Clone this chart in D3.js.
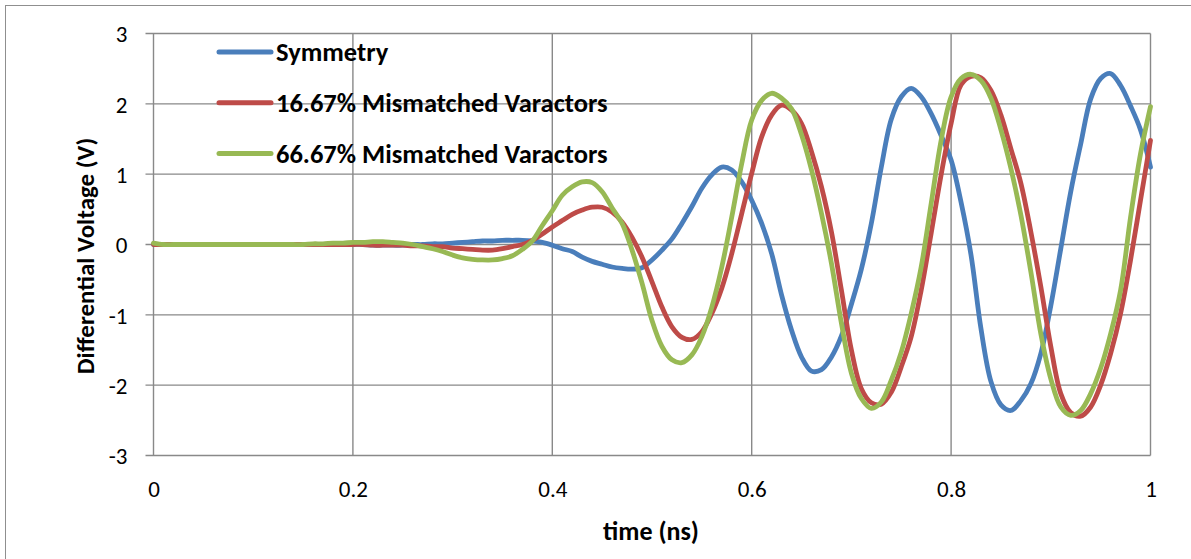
<!DOCTYPE html>
<html>
<head>
<meta charset="utf-8">
<script src="https://cdn.jsdelivr.net/npm/d3@7"></script>
<style>
  html, body { margin: 0; padding: 0; background: #fff; }
  svg { display: block; }
  text { font-family: Carlito, Calibri, Lato, "Noto Sans", sans-serif; fill: #000; }
</style>
</head>
<body>
<svg id="chart" width="1191" height="559"></svg>
<script>
// Differential output voltage of the oscillator during start-up (0 – 1 ns)
const timeNs = d3.range(0, 101).map(i => i / 100);

const seriesNames = ["Symmetry", "16.67% Mismatched Varactors", "66.67% Mismatched Varactors"];
const seriesColors = ["#4A7EBB", "#BE4B48", "#98B954"];

const symmetry = [
  0, 0, 0, 0, 0, 0, 0, 0, 0, 0,
  0, 0, 0, 0, 0, 0, 0, 0, 0, 0,
  0, 0, -0.01, -0.01, -0.01, -0.01, 0, 0, 0.01, 0.01,
  0.02, 0.03, 0.04, 0.05, 0.05, 0.06, 0.06, 0.06, 0.05, 0.03,
  -0.01, -0.06, -0.10, -0.18, -0.24, -0.28, -0.32, -0.34, -0.35, -0.33,
  -0.22, -0.08, 0.08, 0.30, 0.54, 0.80, 0.99, 1.10, 1.06, 0.89,
  0.63, 0.30, -0.13, -0.72, -1.22, -1.60, -1.80, -1.78, -1.60, -1.30,
  -0.85, -0.35, 0.30, 1.10, 1.78, 2.10, 2.22, 2.10, 1.86, 1.55,
  1.20, 0.60, -0.15, -1.20, -1.95, -2.28, -2.36, -2.22, -1.98, -1.55,
  -0.87, -0.06, 0.75, 1.43, 2.07, 2.36, 2.43, 2.26, 1.97, 1.63,
  1.10
];

const mismatch1667 = [
  0, 0, 0, 0, 0, 0, 0, 0, 0, 0,
  0, 0, 0, 0, 0, 0, 0, 0, 0, 0,
  0, 0, -0.01, -0.01, -0.01, -0.01, -0.02, -0.02, -0.03, -0.03,
  -0.05, -0.06, -0.07, -0.08, -0.08, -0.06, -0.03, 0.00, 0.06, 0.15,
  0.25, 0.34, 0.43, 0.49, 0.53, 0.53, 0.46, 0.32, 0.10, -0.18,
  -0.53, -0.89, -1.17, -1.32, -1.35, -1.24, -0.98, -0.62, -0.13, 0.44,
  1.01, 1.53, 1.84, 1.98, 1.91, 1.72, 1.32, 0.82, 0.18, -0.65,
  -1.50, -2.05, -2.25, -2.27, -2.10, -1.74, -1.31, -0.65, 0.16, 0.99,
  1.72, 2.27, 2.39, 2.37, 2.19, 1.84, 1.36, 0.87, 0.18, -0.60,
  -1.45, -2.12, -2.39, -2.44, -2.31, -2.00, -1.55, -0.98, -0.22, 0.63,
  1.48
];

const mismatch6667 = [
  0.02, 0, 0, 0, 0, 0, 0, 0, 0, 0,
  0, 0, 0, 0, 0, 0, 0.01, 0.01, 0.02, 0.02,
  0.03, 0.03, 0.04, 0.04, 0.03, 0.02, 0.00, -0.03, -0.06, -0.10,
  -0.15, -0.19, -0.21, -0.22, -0.22, -0.20, -0.16, -0.07, 0.05, 0.27,
  0.48, 0.70, 0.82, 0.89, 0.88, 0.75, 0.52, 0.30, -0.08, -0.55,
  -1.08, -1.45, -1.64, -1.68, -1.57, -1.31, -0.89, -0.32, 0.39, 1.15,
  1.77, 2.05, 2.15, 2.08, 1.93, 1.56, 1.06, 0.44, -0.27, -1.12,
  -1.83, -2.19, -2.33, -2.24, -1.93, -1.53, -0.98, -0.32, 0.58, 1.48,
  2.10, 2.36, 2.42, 2.33, 2.08, 1.63, 1.08, 0.42, -0.39, -1.27,
  -1.91, -2.31, -2.43, -2.36, -2.12, -1.76, -1.27, -0.65, 0.39, 1.29,
  1.96
];

const xTicks = [0, 0.2, 0.4, 0.6, 0.8, 1];
const yTicks = [-3, -2, -1, 0, 1, 2, 3];

const svg = d3.select("#chart");
const W = 1191, H = 559;
const margin = { left: 153.5, right: W - 1150.5, top: 33.5, bottom: H - 455.5 };
const gridColor = "#898989";
const fontStack = "Carlito, Calibri, Lato, sans-serif";

// outer chart frame
svg.append("rect")
  .attr("x", 5.5).attr("y", 5.5)
  .attr("width", W + 10).attr("height", H + 10)
  .attr("fill", "#fff").attr("stroke", "#8f8f8f").attr("stroke-width", 1);

const x = d3.scaleLinear().domain([0, 1]).range([margin.left, W - margin.right]);
const y = d3.scaleLinear().domain([-3, 3]).range([H - margin.bottom, margin.top]);

// gridlines
const grid = svg.append("g");
grid.selectAll(".hg").data(yTicks).join("line")
  .attr("x1", x(0) - 8).attr("x2", x(1))
  .attr("y1", d => y(d)).attr("y2", d => y(d))
  .attr("stroke", gridColor).attr("stroke-width", 1.4);
grid.selectAll(".vg").data(xTicks).join("line")
  .attr("x1", d => x(d)).attr("x2", d => x(d))
  .attr("y1", y(3)).attr("y2", y(-3))
  .attr("stroke", gridColor).attr("stroke-width", 1.4);

// axis labels
const yAxis = d3.axisLeft(y).tickValues(yTicks).tickSize(0).tickPadding(26)
  .tickFormat(d => d3.format("d")(d).replace("−", "-"));
const gy = svg.append("g").attr("transform", `translate(${x(0)},0)`).call(yAxis);
gy.select(".domain").remove();
gy.selectAll("text").attr("font-size", 23).attr("font-family", fontStack).attr("dy", "0.36em");

const xAxis = d3.axisBottom(x).tickValues(xTicks).tickSize(0).tickPadding(25)
  .tickFormat(d => d3.format("")(d));
const gx = svg.append("g").attr("transform", `translate(0,${y(-3)})`).call(xAxis);
gx.select(".domain").remove();
gx.selectAll("text").attr("font-size", 23).attr("font-family", fontStack);

// series
const line = d3.line()
  .x((d, i) => x(timeNs[i]))
  .y(d => y(d))
  .curve(d3.curveCatmullRom.alpha(0.5));

const allSeries = [symmetry, mismatch1667, mismatch6667];
svg.append("g").selectAll("path").data(allSeries).join("path")
  .attr("d", d => line(d))
  .attr("fill", "none")
  .attr("stroke", (d, i) => seriesColors[i])
  .attr("stroke-width", 4.8)
  .attr("stroke-linejoin", "round")
  .attr("stroke-linecap", "round");

// legend
const legend = svg.append("g");
const legendRows = legend.selectAll("g").data(seriesNames).join("g")
  .attr("transform", (d, i) => `translate(219,${52 + i * 50.7})`);
legendRows.append("line")
  .attr("x1", 0).attr("x2", 52).attr("y1", 0).attr("y2", 0)
  .attr("stroke", (d, i) => seriesColors[i])
  .attr("stroke-width", 5).attr("stroke-linecap", "round");
legendRows.append("text")
  .attr("x", 57).attr("y", 0).attr("dy", "0.35em")
  .attr("font-size", 26.5).attr("font-weight", "bold")
  .text(d => d);

// axis titles
svg.append("text")
  .attr("x", 651).attr("y", 531)
  .attr("text-anchor", "middle").attr("dy", "0.35em")
  .attr("font-size", 26).attr("font-weight", "bold")
  .text("time (ns)");

svg.append("text")
  .attr("transform", "translate(85,256) rotate(-90)")
  .attr("text-anchor", "middle").attr("dy", "0.35em")
  .attr("font-size", 25).attr("font-weight", "bold")
  .text("Differential Voltage (V)");
</script>
</body>
</html>
